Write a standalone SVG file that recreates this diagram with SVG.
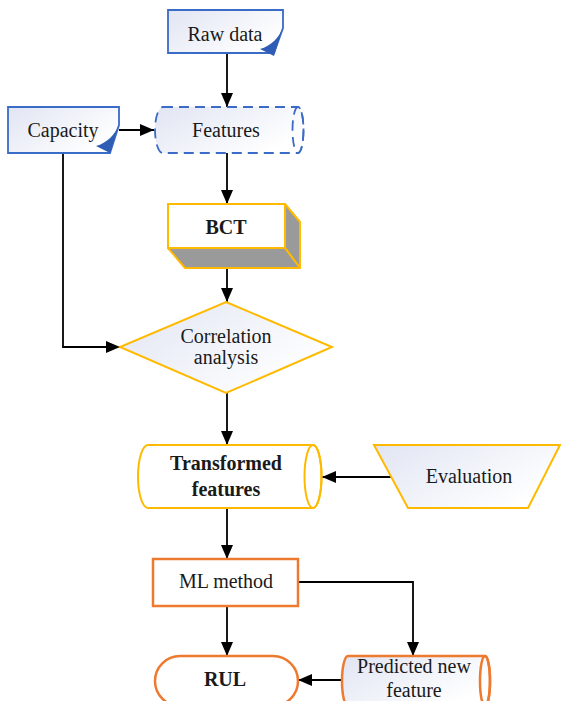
<svg xmlns="http://www.w3.org/2000/svg" width="561" height="701" viewBox="0 0 561 701">
<defs>
<linearGradient id="g" x1="0" y1="0" x2="1" y2="0.6">
<stop offset="0" stop-color="#E1E5F3"/>
<stop offset="1" stop-color="#FFFFFF"/>
</linearGradient>
<marker id="arr" viewBox="0 0 14 12" refX="14" refY="6" markerWidth="14" markerHeight="12" markerUnits="userSpaceOnUse" orient="auto">
<path d="M0,0 L14,6 L0,12 Z" fill="#000"/>
</marker>
<style>
text{font-family:'Liberation Serif','Times New Roman','DejaVu Serif',serif;font-size:20px;fill:#1a1a1a;text-anchor:middle}
.b{font-weight:bold}
.blue{stroke:#3A6BC6;stroke-width:1.8;fill:url(#g)}
.amb{stroke:#FFBA00;stroke-width:2;fill:#fff}
.ambg{stroke:#FFBA00;stroke-width:2;fill:url(#g)}
.org{stroke:#EE7A30;stroke-width:2.5;fill:#fff}
.orgg{stroke:#EE7A30;stroke-width:2.5;fill:url(#g)}
.curl{fill:#2F5DB5}
.c{stroke:#000;stroke-width:1.8;fill:none;marker-end:url(#arr)}
</style>
</defs>
<rect width="561" height="701" fill="#fff"/>
<g id="connectors">
<path class="c" d="M227,53 V107"/>
<path class="c" d="M119,130 H154"/>
<path class="c" d="M227,153 V204"/>
<path class="c" d="M227,248 V302"/>
<path class="c" d="M63,153 V347 H120"/>
<path class="c" d="M227,393 V445"/>
<path class="c" d="M391,477 H322"/>
<path class="c" d="M227,508 V559"/>
<path class="c" d="M227,606 V656"/>
<path class="c" d="M298,582 H413 V656"/>
<path class="c" d="M342,680 H298"/>
</g>
<g id="raw-data" font-family="Liberation Serif, serif">
<path class="blue" d="M168,10 H283 V28 L274,53 H168 Z"/>
<path class="curl" d="M283,27 C279,38 271,46 260,49 L274,56 Z"/>
<text x="225" y="41">Raw data</text>
</g>
<g id="capacity">
<path class="blue" d="M8,107 H119 V125 L110,153 H8 Z"/>
<path class="curl" d="M119,124 C115,135 107,143 96,146 L110,153 Z"/>
<text x="63" y="137">Capacity</text>
</g>
<g id="features">
<path class="blue" stroke-dasharray="10,6" d="M163,107 H298 A5.5,23 0 0 1 298,153 H163 A8,23 0 0 1 163,107 Z"/>
<ellipse cx="298" cy="130" rx="5.5" ry="23" fill="none" stroke="#3A6BC6" stroke-width="1.8" stroke-dasharray="10,6"/>
<text x="226" y="137">Features</text>
</g>
<g id="bct">
<path d="M285,204 L300,222 V268 L285,248 Z" fill="#9a9a9a" stroke="#FFBA00" stroke-width="2" stroke-linejoin="round"/>
<path d="M168,248 H285 L300,268 H185 Z" fill="#9a9a9a" stroke="#FFBA00" stroke-width="2" stroke-linejoin="round"/>
<rect class="amb" x="168" y="204" width="117" height="44"/>
<text class="b" x="226" y="234">BCT</text>
</g>
<g id="correlation">
<path class="ambg" d="M226,302 L332,347 L226,393 L120,347 Z"/>
<text x="226" y="343">Correlation</text>
<text x="226" y="364">analysis</text>
</g>
<g id="transformed">
<path class="amb" d="M313,445 A8.5,31.5 0 0 1 313,508 H148 A10,31.5 0 0 1 148,445 Z"/>
<ellipse cx="313" cy="476.5" rx="8.5" ry="31.5" fill="none" stroke="#FFBA00" stroke-width="2"/>
<text class="b" x="226" y="470">Transformed</text>
<text class="b" x="226" y="496">features</text>
</g>
<g id="evaluation">
<path class="ambg" d="M374,445 H560 L528,508 H408 Z"/>
<text x="469" y="483">Evaluation</text>
</g>
<g id="ml-method">
<rect class="org" x="153" y="559" width="145" height="47"/>
<text x="226" y="588">ML method</text>
</g>
<g id="rul">
<rect class="org" x="155" y="656" width="143" height="50" rx="25" ry="25"/>
<text class="b" x="225" y="686">RUL</text>
</g>
<g id="predicted">
<path class="orgg" d="M485,656 A5,25 0 0 1 485,706 H348 A6,25 0 0 1 348,656 Z"/>
<ellipse cx="485" cy="681" rx="5" ry="25" fill="none" stroke="#EE7A30" stroke-width="2.5"/>
<text x="414" y="673">Predicted new</text>
<text x="414" y="697">feature</text>
</g>
</svg>
